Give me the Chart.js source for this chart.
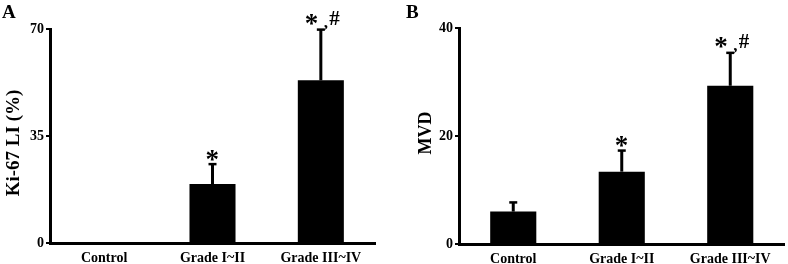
<!DOCTYPE html>
<html>
<head>
<meta charset="utf-8">
<script src="https://cdn.jsdelivr.net/npm/chart.js@4/dist/chart.umd.min.js"></script>
<style>
  html, body { margin: 0; padding: 0; background: #fff; }
  .panel { position: absolute; top: 0; width: 394px; height: 264px; }
  #pa { left: 0; }
  #pb { left: 394px; }
</style>
</head>
<body>
<div class="panel" id="pa"><canvas id="ca" width="394" height="264"></canvas></div>
<div class="panel" id="pb"><canvas id="cb" width="394" height="264"></canvas></div>
<script>
// ---- data ----
const categories = ["Control", "Grade I~II", "Grade III~IV"];
const kiValues = [0, 19.3, 53.2];
const kiErrors = [0, 6.5, 16.6];
const kiMarks = ["", "*", "*, #"];
const kiTicks = [0, 35, 70];
const mvdValues = [6.0, 13.4, 29.3];
const mvdErrors = [1.7, 3.9, 6.1];
const mvdMarks = ["", "*", "*, #"];
const mvdTicks = [0, 20, 40];

const SERIF = '"Liberation Serif", "Times New Roman", serif';
Chart.defaults.font.family = SERIF;
Chart.defaults.color = '#000';

function glyphAt(ctx, text, font, cx, cy) {
  ctx.font = font;
  const m = ctx.measureText(text);
  const asc = m.actualBoundingBoxAscent, desc = m.actualBoundingBoxDescent;
  const l = m.actualBoundingBoxLeft, r = m.actualBoundingBoxRight;
  ctx.textAlign = 'left';
  ctx.textBaseline = 'alphabetic';
  const x = cx - (r - l) / 2;
  const y = cy + (asc - desc) / 2;
  ctx.fillText(text, x, y);
}

const extrasPlugin = {
  id: 'extras',
  afterDatasetsDraw(chart, args, o) {
    const ctx = chart.ctx;
    const xs = chart.scales.x, ys = chart.scales.y;
    const vals = o.values, errs = o.errors, marks = o.marks;
    ctx.save();
    ctx.strokeStyle = '#000';
    ctx.fillStyle = '#000';
    for (let i = 0; i < vals.length; i++) {
      const x = xs.getPixelForValue(i);
      const yb = ys.getPixelForValue(vals[i]);
      const yt = ys.getPixelForValue(vals[i] + errs[i]);
      if (errs[i] > 0) {
        ctx.lineWidth = 3;
        ctx.beginPath(); ctx.moveTo(x, yb); ctx.lineTo(x, yt); ctx.stroke();
        ctx.lineWidth = 2.5;
        ctx.beginPath(); ctx.moveTo(x - 4, yt); ctx.lineTo(x + 4, yt); ctx.stroke();
      }
      const m = marks[i];
      if (!m) continue;
      const parts = m.split(',');
      if (parts.length === 1) {
        glyphAt(ctx, parts[0].trim(), 'bold 27px ' + SERIF, x, yt - 9);
      } else {
        glyphAt(ctx, parts[0].trim(), 'bold 27px ' + SERIF, x - 9, yt - 10.5);
        glyphAt(ctx, ',', 'bold 17px ' + SERIF, x + 5, yt - 2);
        glyphAt(ctx, parts[1].trim(), 'bold 21px ' + SERIF, x + 14, yt - 11.5);
      }
    }
    ctx.restore();
  },
  afterDraw(chart, args, o) {
    const ctx = chart.ctx;
    ctx.save();
    ctx.fillStyle = '#000';
    ctx.font = 'bold 19px ' + SERIF;
    ctx.textAlign = 'left';
    ctx.textBaseline = 'alphabetic';
    ctx.fillText(o.letter, o.letterX, 18);
    ctx.translate(o.titleX, o.titleY);
    ctx.rotate(-Math.PI / 2);
    ctx.textAlign = 'center';
    ctx.textBaseline = 'middle';
    ctx.font = 'bold ' + o.titleSize + 'px ' + SERIF;
    ctx.fillText(o.title, 0, 0);
    ctx.restore();
  }
};

function makeChart(id, values, errors, marks, ticks, cfg) {
  return new Chart(document.getElementById(id), {
    type: 'bar',
    data: {
      labels: categories,
      datasets: [{
        data: values,
        backgroundColor: '#000',
        borderWidth: 0,
        barPercentage: 0.425,
        categoryPercentage: 1
      }]
    },
    options: {
      responsive: false,
      animation: false,
      layout: { padding: { left: 0, right: cfg.right, top: cfg.top, bottom: 0 } },
      plugins: {
        legend: { display: false },
        tooltip: { enabled: false },
        extras: {
          values: values, errors: errors, marks: marks,
          letter: cfg.letter, letterX: cfg.letterX,
          title: cfg.title, titleX: cfg.titleX, titleY: cfg.titleY, titleSize: cfg.titleSize
        }
      },
      scales: {
        x: {
          grid: { display: false, drawTicks: false },
          border: { display: true, color: '#000', width: 3 },
          ticks: { font: { size: 14, weight: 'bold' }, padding: 7, maxRotation: 0, autoSkip: false },
          afterFit(s) { s.height = cfg.xHeight; }
        },
        y: {
          min: ticks[0], max: ticks[ticks.length - 1],
          afterBuildTicks(s) { s.ticks = ticks.map(v => ({ value: v })); },
          grid: { display: true, drawOnChartArea: false, drawTicks: true, tickLength: 4, color: '#000', lineWidth: 2 },
          border: { display: true, color: '#000', width: 3 },
          ticks: { font: { size: 14, weight: 'bold' }, padding: 2 },
          afterFit(s) { s.width = cfg.yWidth; }
        }
      }
    },
    plugins: [extrasPlugin]
  });
}

makeChart('ca', kiValues, kiErrors, kiMarks, kiTicks, {
  right: 19, top: 29, xHeight: 21, yWidth: 50,
  letter: 'A', letterX: 2, title: 'Ki-67 LI (%)', titleX: 14, titleY: 143, titleSize: 19
});
makeChart('cb', mvdValues, mvdErrors, mvdMarks, mvdTicks, {
  right: 3.5, top: 28, xHeight: 20, yWidth: 65,
  letter: 'B', letterX: 12, title: 'MVD', titleX: 32, titleY: 133, titleSize: 18
});
</script>
</body>
</html>
